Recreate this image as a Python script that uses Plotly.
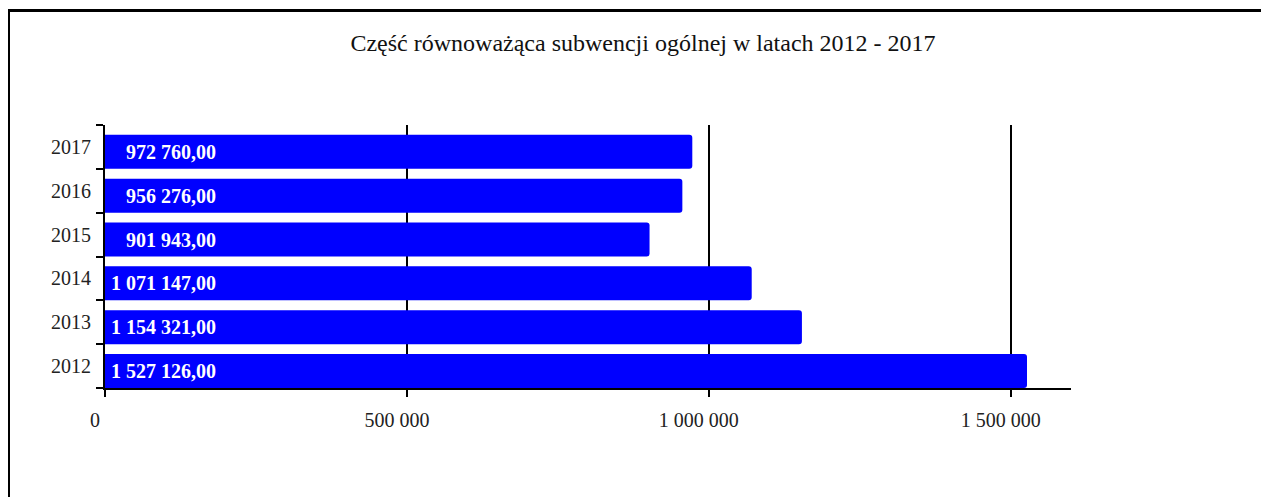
import plotly.graph_objects as go

years = ["2012", "2013", "2014", "2015", "2016", "2017"]
values = [1527126.00, 1154321.00, 1071147.00, 901943.00, 956276.00, 972760.00]
x_ticks = [0, 500000, 1000000, 1500000]
x_tick_labels = ["0", "500 000", "1 000 000", "1 500 000"]
title_text = "Część równoważąca subwencji ogólnej w latach 2012 - 2017"


def fmt(v):
    return f"{v:,.2f}".replace(",", " ").replace(".", ",")


FONT = "Liberation Serif"
OFF = 8  # page body margin
W, H = 1269, 497
PW, PH = 966, 263
L, T = 105 - OFF, 125 - OFF
R, B = W - L - PW, H - T - PH

BAR_W = 0.775
BAR_OFF = -0.5

fig = go.Figure()
fig.add_trace(go.Bar(
    x=values, y=years, orientation="h",
    width=BAR_W, offset=BAR_OFF,
    marker=dict(color="#0000FF", line=dict(width=0)),
    hoverinfo="x+y",
))

for i, v in enumerate(values):
    fig.add_annotation(
        x=187000, y=i + BAR_OFF + BAR_W / 2, xref="x", yref="y",
        text=fmt(v), showarrow=False,
        xanchor="right", yanchor="middle",
        font=dict(family=FONT, size=20, color="white", weight="bold"),
    )


def fx(px):
    return (px - L) / PW


def fy(py):
    return (H - B - py) / PH


fig.add_shape(
    type="rect", xref="paper", yref="paper",
    x0=fx(0.5), x1=fx(1320),
    y0=fy(2.5), y1=fy(540),
    line=dict(color="black", width=3), fillcolor="rgba(0,0,0,0)", layer="above",
)

fig.update_layout(
    width=W, height=H,
    margin=dict(l=L, r=R, t=T, b=B, pad=0),
    paper_bgcolor="white", plot_bgcolor="white",
    barcornerradius=3,
    showlegend=False,
    title=dict(text=title_text, x=(643 - OFF) / W, xanchor="center",
               y=1 - (43 - OFF) / H, yanchor="middle",
               font=dict(family=FONT, size=24, color="#111")),
    xaxis=dict(
        range=[0, 1600000], tickvals=x_ticks, ticktext=x_tick_labels,
        showgrid=True, gridcolor="black", gridwidth=2,
        showline=True, linecolor="black", linewidth=2,
        ticks="outside", ticklen=7, tickwidth=2, tickcolor="black",
        ticklabelstandoff=6, ticklabelshift=-10, automargin=False,
        zeroline=False,
        tickfont=dict(family=FONT, size=20, color="#222"),
    ),
    yaxis=dict(
        type="category", categoryorder="array", categoryarray=years,
        range=[-0.5, len(years) - 0.5], autorange=False,
        showgrid=False, showline=True, linecolor="black", linewidth=2,
        ticks="outside", ticklen=7, tickwidth=2, tickcolor="black",
        tickson="boundaries", ticklabelstandoff=8, automargin=False,
        tickfont=dict(family=FONT, size=20, color="#222"),
    ),
)

fig.write_html("out.html")
